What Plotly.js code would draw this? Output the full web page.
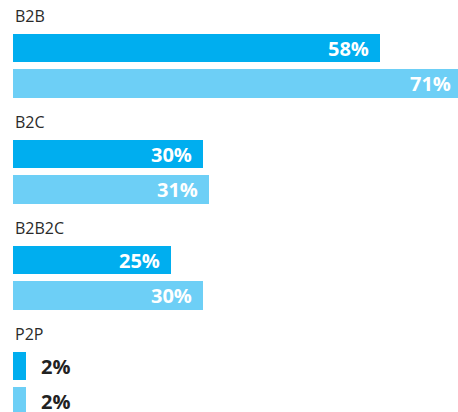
<!DOCTYPE html>
<html>
<head>
<meta charset="utf-8">
<script src="https://cdn.plot.ly/plotly-3.0.1.min.js"></script>
<style>html,body{margin:0;padding:0;background:#fff;}#chart{width:458px;height:412px;}</style>
</head>
<body>
<div id="chart"></div>
<script>
const categories = ["B2B", "B2C", "B2B2C", "P2P"];
const series1 = [58, 30, 25, 2];
const series2 = [71, 31, 30, 2];
const valueLabels1 = ["58%", "30%", "25%", "2%"];
const valueLabels2 = ["71%", "31%", "30%", "2%"];

const colors = ["#00AEEF", "#6DCFF6"];
const xMax = 70.3;
const pos1 = categories.map((c, i) => 3 * i + 1);
const pos2 = categories.map((c, i) => 3 * i + 2);

const traces = [
  {type: "bar", orientation: "h", x: series1, y: pos1, width: 0.81,
   marker: {color: colors[0]}, hoverinfo: "skip", showlegend: false, cliponaxis: true},
  {type: "bar", orientation: "h", x: series2, y: pos2, width: 0.81,
   marker: {color: colors[1]}, hoverinfo: "skip", showlegend: false, cliponaxis: true}
];

const annotations = [];
categories.forEach((c, i) => {
  annotations.push({xref: "paper", x: 0, xanchor: "left", yref: "y", y: 3 * i + 0.1,
    yanchor: "middle", text: c, showarrow: false,
    font: {family: "Open Sans, sans-serif", size: 16, color: "#2a2a2a"}});
});
function addVal(vals, labels, pos) {
  vals.forEach((v, i) => {
    const inside = v > 10;
    annotations.push({xref: "paper", x: v / xMax, yref: "y", y: pos[i], yanchor: "middle",
      xanchor: inside ? "right" : "left", xshift: inside ? -10 : 14,
      text: labels[i], showarrow: false, borderpad: 0,
      font: {family: "Open Sans, sans-serif", size: 20, weight: "bold",
             color: inside ? "#ffffff" : "#222222"}});
  });
}
addVal(series1, valueLabels1, pos1);
addVal(series2, valueLabels2, pos2);

const layout = {
  width: 458, height: 412,
  margin: {l: 13, r: 0, t: 0, b: 0},
  paper_bgcolor: "#ffffff", plot_bgcolor: "#ffffff",
  xaxis: {range: [0, xMax], visible: false, fixedrange: true},
  yaxis: {range: [11.30, -0.359], visible: false, fixedrange: true},
  bargap: 0,
  annotations: annotations
};
Plotly.newPlot("chart", traces, layout, {displayModeBar: false, staticPlot: true});
</script>
</body>
</html>
